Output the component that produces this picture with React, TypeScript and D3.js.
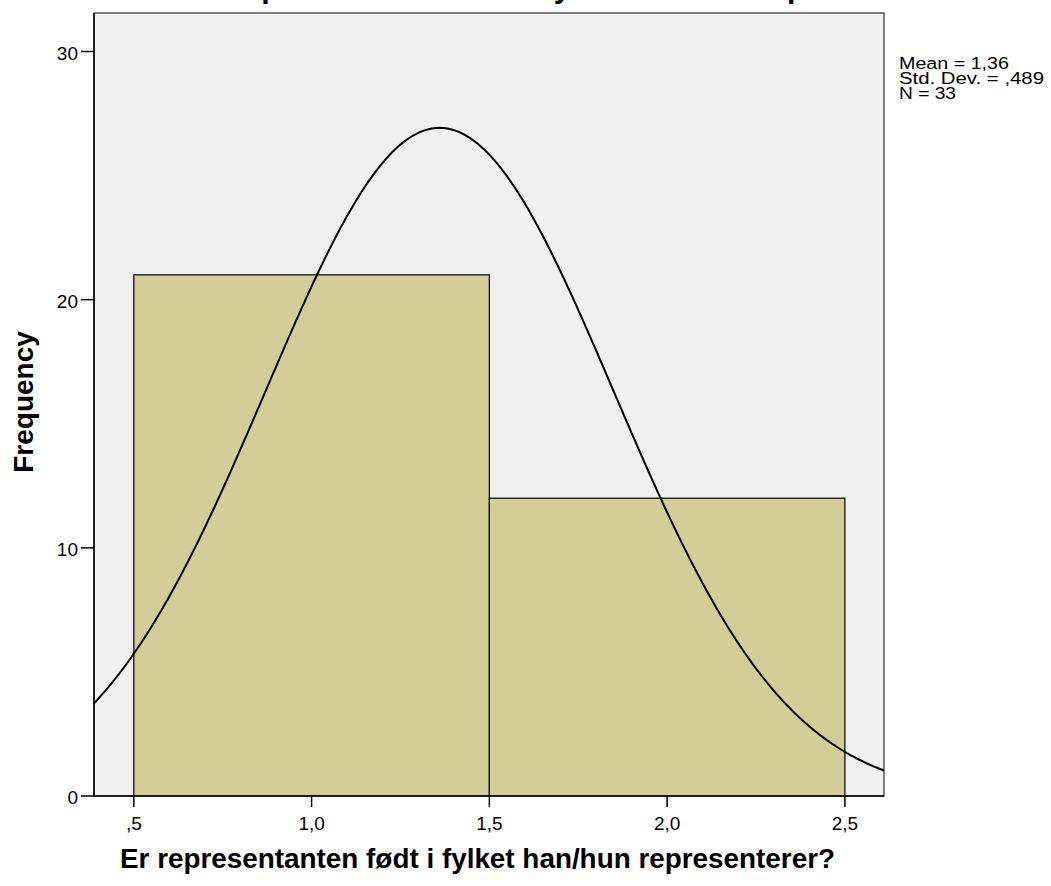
import React from "react";
import * as d3 from "d3";

const binStarts = [0.5, 1.5];
const binEnds = [1.5, 2.5];
const binCounts = [21, 12];
const xTicks = [0.5, 1.0, 1.5, 2.0, 2.5];
const xTickLabels = [",5", "1,0", "1,5", "2,0", "2,5"];
const yTicks = [0, 10, 20, 30];
const statLines = ["Mean = 1,36", "Std. Dev. = ,489", "N = 33"];
const statWidths = [110, 145, 57];
const mean = 1.36;
const sd = 0.489;
const n = 33;
const binWidth = 1;
const titleText = "Er representanten født i fylket han/hun representerer?";
const xLabel = "Er representanten født i fylket han/hun representerer?";
const yLabel = "Frequency";

const W = 1051;
const H = 886;
const plot = { left: 94, right: 884, top: 13, bottom: 796 };
const FONT = "'Liberation Sans', Arial, Helvetica, sans-serif";

export default function App() {
  const x = d3.scaleLinear().domain([0.388, 2.61]).range([plot.left, plot.right]);
  const y = d3.scaleLinear().domain([0, 30]).range([plot.bottom, 51.5]);

  const dens = (v: number) =>
    (n * binWidth) / (sd * Math.sqrt(2 * Math.PI)) * Math.exp(-0.5 * ((v - mean) / sd) ** 2);
  const [d0, d1] = x.domain();
  const samples = d3.range(0, 401).map((i) => d0 + ((d1 - d0) * i) / 400);
  const line = d3
    .line<number>()
    .x((v) => x(v))
    .y((v) => y(dens(v)));

  return (
    <svg
      width={W}
      height={H}
      style={{ position: "absolute", left: 0, top: 0, background: "#fff" }}
      fontFamily={FONT}
    >
      <defs>
        <clipPath id="plotclip">
          <rect x={plot.left} y={plot.top} width={plot.right - plot.left} height={plot.bottom - plot.top} />
        </clipPath>
      </defs>
      <text
        x={192}
        y={-3.5}
        fontSize={31}
        fontWeight="bold"
        fill="#000"
        textLength={781}
        lengthAdjust="spacingAndGlyphs"
      >
        {titleText}
      </text>
      <rect
        x={plot.left}
        y={plot.top}
        width={plot.right - plot.left}
        height={plot.bottom - plot.top}
        fill="#f0f0f0"
        stroke="#555"
        strokeWidth={1.5}
      />
      <g clipPath="url(#plotclip)">
        {binCounts.map((c, i) => (
          <rect
            key={i}
            x={x(binStarts[i])}
            y={y(c)}
            width={x(binEnds[i]) - x(binStarts[i])}
            height={y(0) - y(c)}
            fill="#d3ce98"
            stroke="#000"
            strokeWidth={1.2}
          />
        ))}
        <path d={line(samples) || ""} fill="none" stroke="#000" strokeWidth={2} />
      </g>
      <line x1={plot.left} x2={plot.left} y1={plot.top} y2={plot.bottom} stroke="#000" strokeWidth={1.5} />
      <line x1={plot.left} x2={plot.right} y1={plot.bottom} y2={plot.bottom} stroke="#000" strokeWidth={1.5} />
      {yTicks.map((t) => (
        <g key={t}>
          <line x1={plot.left - 13} x2={plot.left} y1={y(t)} y2={y(t)} stroke="#000" strokeWidth={1.5} />
          <text x={plot.left - 16} y={y(t) + 8} textAnchor="end" fontSize={19} fill="#000">
            {t}
          </text>
        </g>
      ))}
      {xTicks.map((t, i) => (
        <g key={t}>
          <line x1={x(t)} x2={x(t)} y1={plot.bottom} y2={plot.bottom + 11} stroke="#000" strokeWidth={1.5} />
          <text x={x(t)} y={830} textAnchor="middle" fontSize={19} fill="#000">
            {xTickLabels[i]}
          </text>
        </g>
      ))}
      <text
        x={120}
        y={868}
        fontSize={28}
        fontWeight="bold"
        fill="#000"
        textLength={715}
        lengthAdjust="spacingAndGlyphs"
      >
        {xLabel}
      </text>
      <text
        transform={`translate(33, 402) rotate(-90)`}
        textAnchor="middle"
        fontSize={28}
        fontWeight="bold"
        fill="#000"
      >
        {yLabel}
      </text>
      {statLines.map((s, i) => (
        <text
          key={i}
          x={899}
          y={69 + i * 15}
          fontSize={16}
          fill="#000"
          textLength={statWidths[i]}
          lengthAdjust="spacingAndGlyphs"
        >
          {s}
        </text>
      ))}
    </svg>
  );
}
